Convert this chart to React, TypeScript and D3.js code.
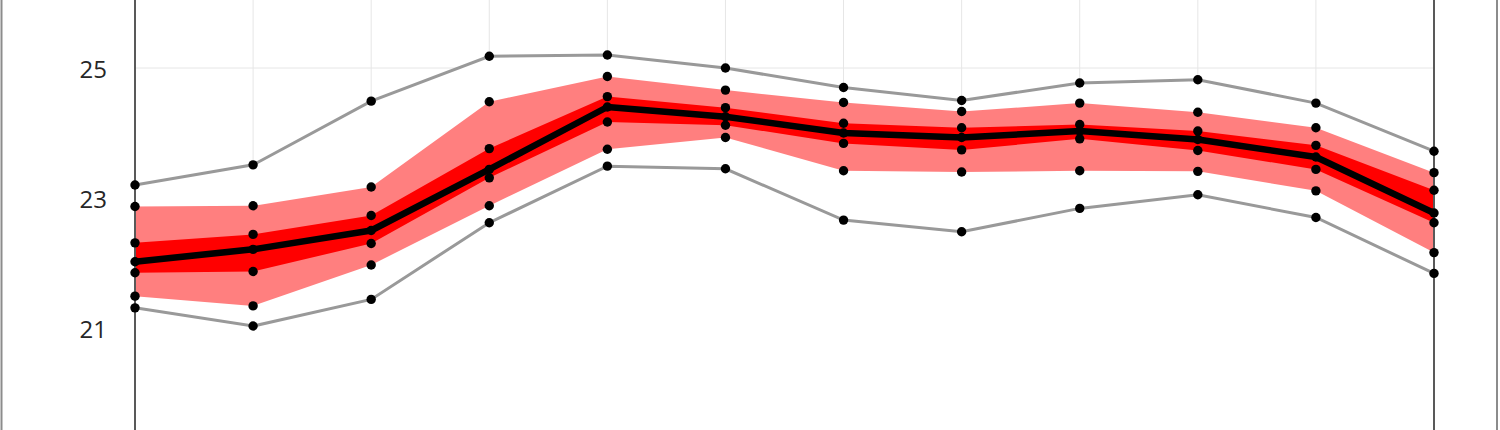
import React from "react";
import * as d3 from "d3";

const categories = ["Jan", "Feb", "Mar", "Apr", "May", "Jun", "Jul", "Aug", "Sep", "Oct", "Nov", "Dec"];
const maxValues = [23.2, 23.51, 24.49, 25.18, 25.2, 25.0, 24.7, 24.5, 24.77, 24.82, 24.46, 23.72];
const upperOuter = [22.87, 22.88, 23.17, 24.48, 24.87, 24.66, 24.47, 24.33, 24.46, 24.32, 24.08, 23.39];
const upperInner = [22.31, 22.44, 22.73, 23.76, 24.56, 24.39, 24.15, 24.08, 24.13, 24.03, 23.81, 23.12];
const meanValues = [22.02, 22.21, 22.5, 23.44, 24.4, 24.25, 24.0, 23.93, 24.03, 23.9, 23.63, 22.77];
const lowerInner = [21.85, 21.87, 22.3, 23.31, 24.17, 24.12, 23.84, 23.74, 23.91, 23.73, 23.44, 22.62];
const lowerOuter = [21.49, 21.34, 21.97, 22.88, 23.75, 23.93, 23.42, 23.4, 23.42, 23.41, 23.11, 22.16];
const minValues = [21.31, 21.03, 21.44, 22.62, 23.49, 23.45, 22.66, 22.48, 22.84, 23.05, 22.7, 21.84];
const yTicks = [21, 23, 25];

const W = 1500;
const H = 430;

export default function App() {
  const x = d3.scalePoint<string>().domain(categories).range([135, 1434]);
  const y = d3.scaleLinear().domain([21, 25]).range([328, 68]);
  const plotBottom = H;
  const idx = categories.map((_, i) => i);

  const band = (lo: number[], hi: number[]) =>
    d3
      .area<number>()
      .x((i) => x(categories[i]) as number)
      .y0((i) => y(lo[i]))
      .y1((i) => y(hi[i]))(idx) || "";

  const whiteArea =
    d3
      .area<number>()
      .x((i) => x(categories[i]) as number)
      .y0(() => plotBottom)
      .y1((i) => y(maxValues[i]))(idx) || "";

  const line = (vals: number[]) =>
    d3
      .line<number>()
      .x((i) => x(categories[i]) as number)
      .y((i) => y(vals[i]))(idx) || "";

  const allSeries = [maxValues, upperOuter, upperInner, meanValues, lowerInner, lowerOuter, minValues];
  const gridY = [19, 21, 23, 25, 27];

  return (
    <svg
      width={W}
      height={H}
      style={{ position: "absolute", left: 0, top: 0, background: "#fff" }}
    >
      <rect x={0} y={0} width={W} height={H} fill="#ffffff" />
      <line x1={1.5} y1={0} x2={1.5} y2={H} stroke="#8c8c8c" strokeWidth={2} />
      <line x1={1497} y1={0} x2={1497} y2={H} stroke="#8c8c8c" strokeWidth={2} />
      {gridY.map((t) => (
        <line key={"gy" + t} x1={135} x2={1434} y1={y(t)} y2={y(t)} stroke="#e6e6e6" strokeWidth={1} />
      ))}
      {categories.map((c) => (
        <line key={"gx" + c} x1={x(c)} x2={x(c)} y1={0} y2={H} stroke="#e6e6e6" strokeWidth={1} />
      ))}
      <path d={whiteArea} fill="#ffffff" />
      <path d={band(lowerOuter, upperOuter)} fill="#ff7f7f" />
      <path d={band(lowerInner, upperInner)} fill="#ff0000" />
      <line x1={135} y1={0} x2={135} y2={H} stroke="#595959" strokeWidth={2} />
      <line x1={1434} y1={0} x2={1434} y2={H} stroke="#595959" strokeWidth={2} />
      <path d={line(maxValues)} fill="none" stroke="#999999" strokeWidth={3} />
      <path d={line(minValues)} fill="none" stroke="#999999" strokeWidth={3} />
      <path d={line(meanValues)} fill="none" stroke="#000000" strokeWidth={6.5} strokeLinejoin="round" />
      {allSeries.map((s, si) =>
        s.map((v, i) => (
          <circle key={si + "-" + i} cx={x(categories[i])} cy={y(v)} r={4.7} fill="#000000" />
        ))
      )}
      {yTicks.map((t) => (
        <text
          key={"yl" + t}
          x={107}
          y={y(t)}
          textAnchor="end"
          dominantBaseline="central"
          fontFamily="'Open Sans', sans-serif"
          fontSize={24}
          fill="#262626"
        >
          {t}
        </text>
      ))}
    </svg>
  );
}
